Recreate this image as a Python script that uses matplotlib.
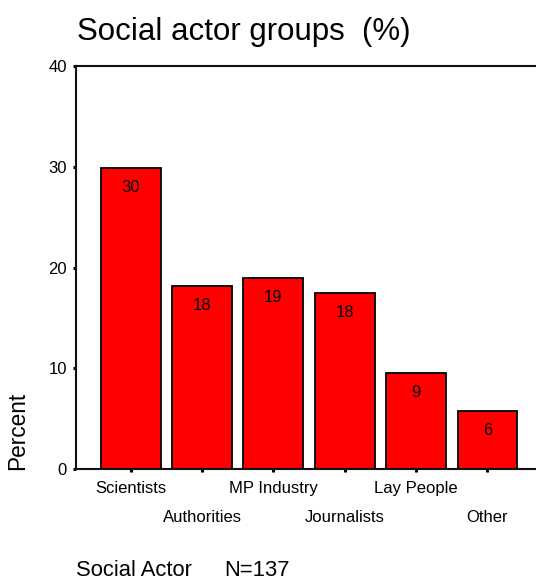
import matplotlib
matplotlib.use("Agg")
import matplotlib.pyplot as plt
import numpy as np

plt.rcParams['font.family'] = ['Liberation Sans', 'DejaVu Sans']

categories = ["Scientists", "Authorities", "MP Industry", "Journalists", "Lay People", "Other"]
percent = [29.9, 18.2, 19.0, 17.5, 9.5, 5.8]
bar_labels = ["30", "18", "19", "18", "9", "6"]
yticks = [0, 10, 20, 30, 40]

fig = plt.figure(figsize=(5.36, 5.81), dpi=100)
ax = fig.add_axes([76/536, 1-469/581, 1-76/536, (469-66)/581])

x = np.arange(len(categories))
ax.bar(x, percent, width=0.84, color='#ff0000', edgecolor='black', linewidth=1.3, zorder=2)

for xi, v, lab in zip(x, percent, bar_labels):
    ax.annotate(lab, (xi, v), xytext=(0, -17.3), textcoords='offset points',
                ha='center', va='baseline', fontsize=12, color='black')

ax.set_xlim(-0.767, 5.68)
ax.set_ylim(0, 40)
ax.set_yticks(yticks)
ax.set_yticklabels([str(t) for t in yticks])
ax.set_xticks(x)
ax.set_xticklabels([])

# staggered category labels (two rows)
for i, (xi, c) in enumerate(zip(x, categories)):
    off = -17.5 if i % 2 == 0 else -37.9
    ax.annotate(c, (xi, 0), xycoords=('data', 'axes fraction'), xytext=(0, off),
                textcoords='offset points', ha='center', va='baseline', fontsize=12,
                annotation_clip=False)

ax.tick_params(axis='y', direction='out', length=2.5, width=2.2, pad=4, labelsize=12, color='black')
ax.tick_params(axis='x', direction='out', length=2.2, width=2.2, color='black')

for s in ['left', 'top', 'bottom']:
    ax.spines[s].set_linewidth(1.5)
    ax.spines[s].set_color('#111111')
ax.spines['right'].set_visible(False)

fig.text(77/536, 1-40.3/581, "Social actor groups  (%)", fontsize=22.5, ha='left', va='baseline')
fig.text(18/536, 1-470.5/581, "Percent", fontsize=16.3, rotation=90, ha='center', va='bottom')
fig.text(76.5/536, 0.5/581, "Social Actor", fontsize=15.8, ha='left', va='bottom')
fig.text(224/536, 0.5/581, "N=137", fontsize=15.8, ha='left', va='bottom')

fig.savefig("out.png", dpi=100)
